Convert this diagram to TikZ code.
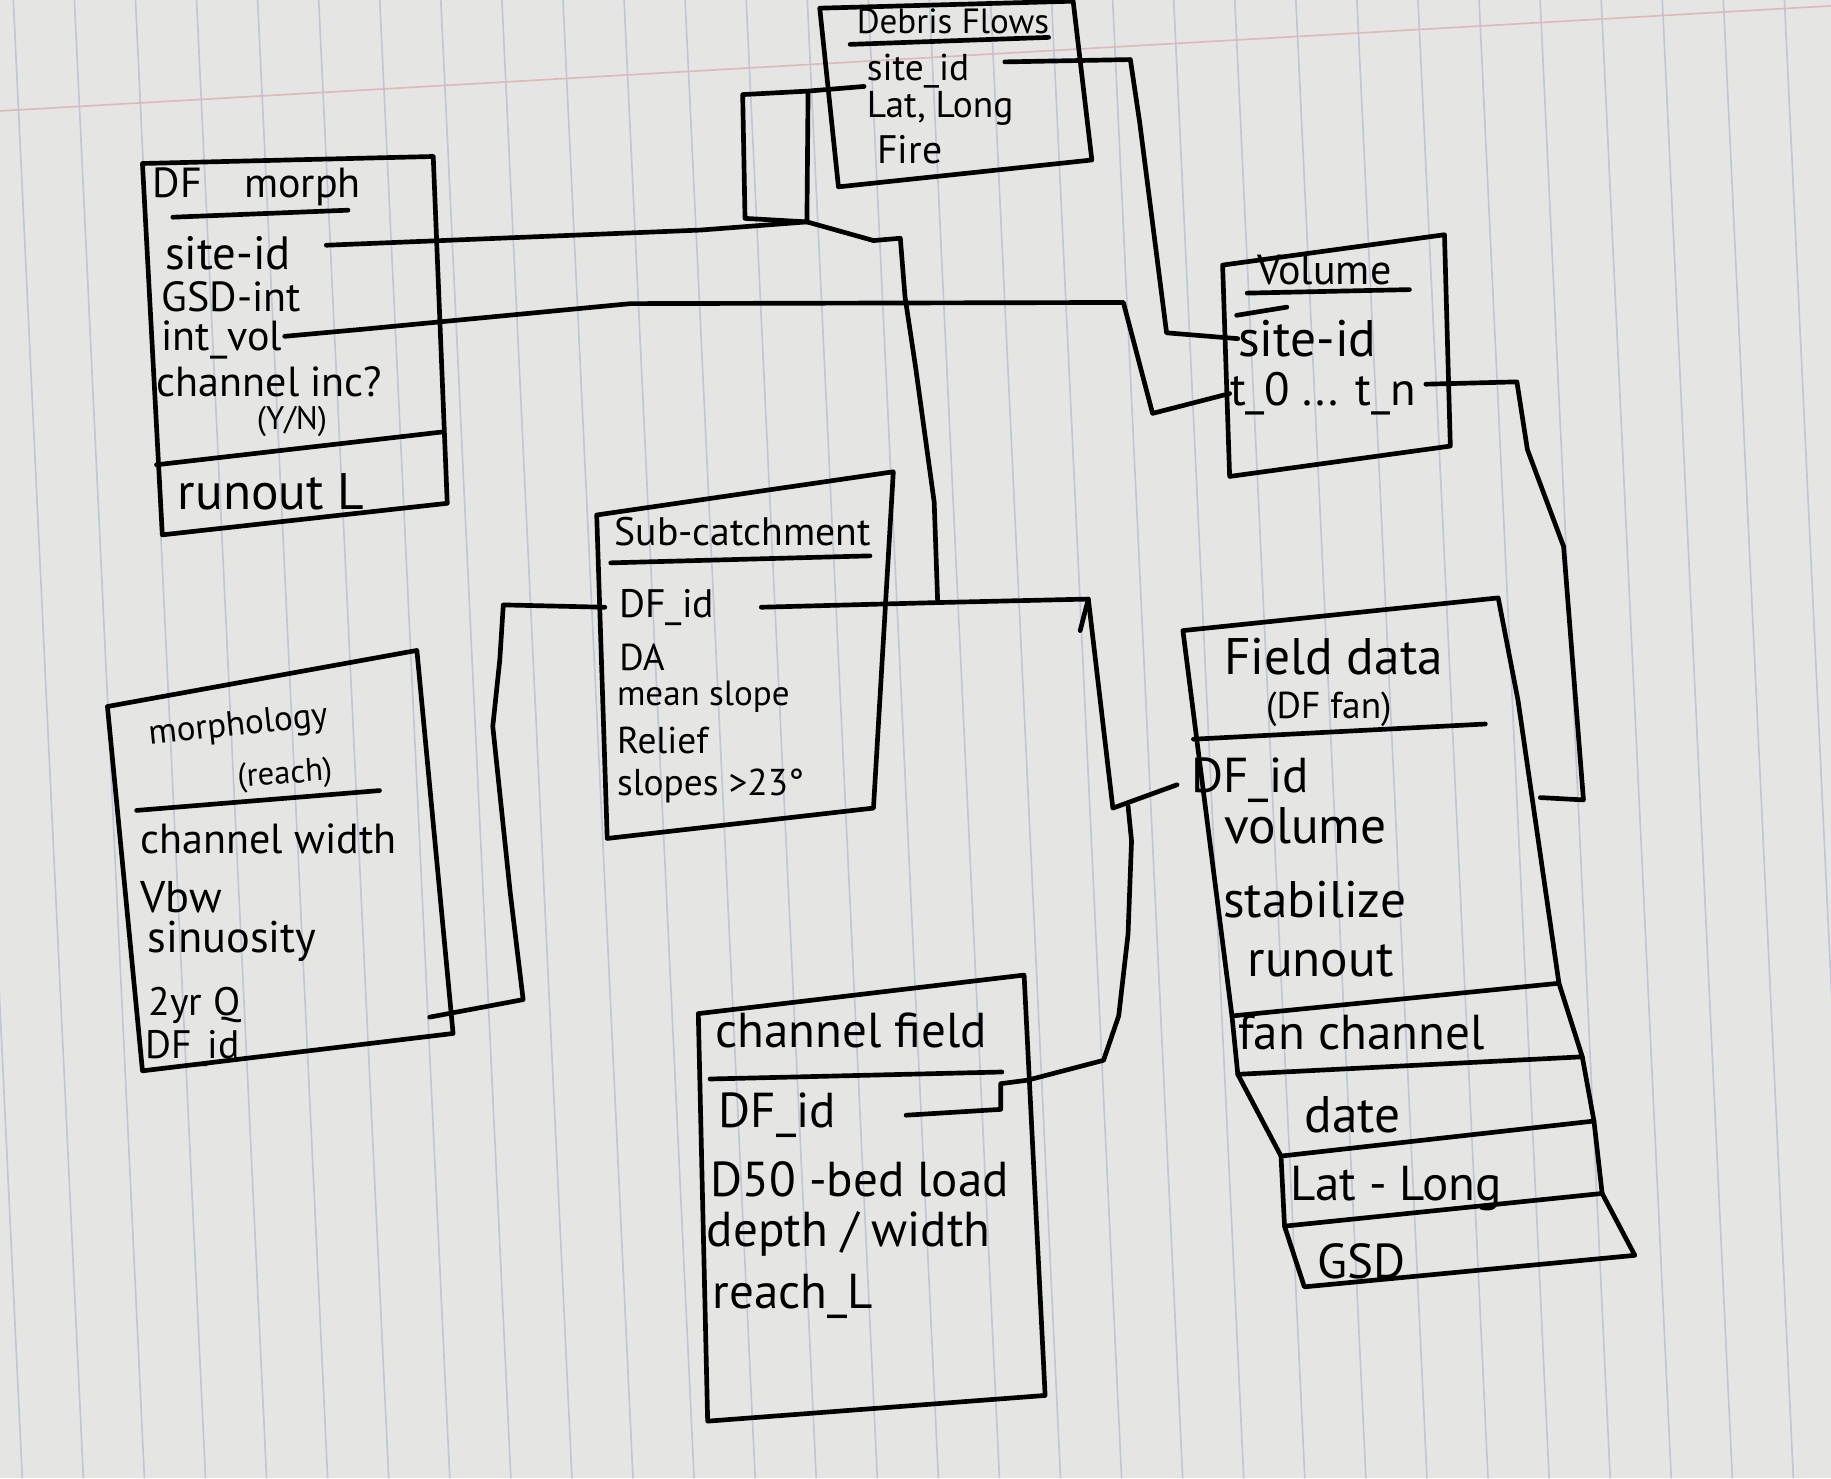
\documentclass[tikz,border=0pt]{standalone}
\usepackage{fontspec}
\setmainfont{PT Sans}
\newcommand{\hw}[1]{\fontsize{#1}{#1}\selectfont}
\definecolor{paper}{RGB}{229,229,227}
\definecolor{rulecol}{RGB}{190,199,217}
\definecolor{margin}{RGB}{222,184,187}
\tikzset{
  ink/.style={line width=2pt, line join=round, line cap=round},
  fld/.style={anchor=west, inner sep=0pt},
  ttl/.style={inner sep=0pt},
  rule/.style={rulecol, line width=0.7pt},
}

\begin{document}
\begin{tikzpicture}[x=0.5pt, y=-0.5pt]
% the notebook page
\fill[paper] (0,0) rectangle (1568,1266);
\useasboundingbox (0,0) rectangle (1568,1266);
\begin{scope}
  \clip (0,0) rectangle (1568,1266);
  \foreach \k in {-14,...,18}
    \draw[rule] ({639+52.3*\k},0) -- ++(60,1266);
  \draw[margin, line width=0.7pt] (0,95) -- (1568,5);
\end{scope}

% bend points of the connectors
\coordinate (jn) at (691,190);
\coordinate (jd) at (803,516);
\coordinate (kink) at (953,692);
\coordinate (mor-end) at (368,871);
\coordinate (fd-end) at (1319,683);

% Debris Flows
\draw[ink] (702,7) -- (919,1) -- (935,137) -- (718,160) -- cycle;
\node[ttl, font=\hw{15}] (dbf) at (816,18) {Debris Flows};
\draw[ink] (728,38) -- (898,32);
\node[fld, font=\hw{16}] (dbf-site) at (742,61) {site\_id};
\node[fld, font=\hw{16}] (dbf-ll) at (742,93) {Lat, Long};
\node[fld, font=\hw{17}] (dbf-fire) at (751,128) {Fire};

% DF morph
\draw[ink] (122,140) -- (371,134) -- (383,431) -- (139,458) -- cycle;
\draw[ink] (134,398) -- (378,370);
\node[ttl, font=\hw{18}] (dfm) at (220,160) {DF\quad morph};
\draw[ink] (148,186) -- (298,180);
\node[fld, font=\hw{20}] (dfm-site) at (141,217) {site-id};
\node[fld, font=\hw{18}] (dfm-gsd) at (138,254) {GSD-int};
\node[fld, font=\hw{18}] (dfm-vol) at (138,291) {int\_vol};
\node[fld, font=\hw{18}] (dfm-chan) at (134,327) {channel inc?};
\node[ttl, font=\hw{14}] (dfm-yn) at (250,361) {(Y/N)};
\node[fld, font=\hw{22}] (dfm-run) at (152,421) {runout L};

% Sub-catchment
\draw[ink] (511,441) -- (765,404) -- (748,692) -- (520,718) -- cycle;
\draw[ink] (523,482) -- (745,476);
\node[ttl, font=\hw{17}] (sub) at (636,455) {Sub-catchment};
\node[fld, font=\hw{17}] (sub-id) at (530,520) {DF\_id};
\node[fld, font=\hw{16}] (sub-da) at (530,563) {DA};
\node[fld, font=\hw{15}] (sub-ms) at (528,597) {mean slope};
\node[fld, font=\hw{16}] (sub-rel) at (528,634) {Relief};
\node[fld, font=\hw{16}] (sub-sl) at (528,673) {slopes >23°};

% morphology (reach)
\draw[ink] (92,605) -- (357,557) -- (388,885) -- (122,917) -- cycle;
\draw[ink] (117,694) -- (325,677);
\node[ttl, font=\hw{15}, rotate=6] (mor) at (204,622) {morphology};
\node[ttl, font=\hw{14}, rotate=4] (mor-r) at (244,664) {(reach)};
\node[fld, font=\hw{18}] (mor-cw) at (120,718) {channel width};
\node[fld, font=\hw{19}] (mor-vbw) at (120,768) {Vbw};
\node[fld, font=\hw{19}] (mor-sin) at (126,806) {sinuosity};
\node[fld, font=\hw{17}] (mor-q) at (127,861) {2yr Q};
\node[fld, font=\hw{17}] (mor-id) at (124,898) {DF\_id};

% channel field
\draw[ink] (598,868) -- (877,835) -- (895,1195) -- (606,1217) -- cycle;
\draw[ink] (608,924) -- (858,918);
\node[ttl, font=\hw{21}] (chf) at (729,882) {channel field};
\node[fld, font=\hw{21}] (chf-id) at (615,955) {DF\_id};
\node[fld, font=\hw{21}] (chf-d50) at (608,1010) {D50 -bed load};
\node[fld, font=\hw{21}] (chf-dw) at (605,1057) {depth / width};
\node[fld, font=\hw{21}] (chf-rl) at (610,1110) {reach\_L};

% Volume
\draw[ink] (1047,227) -- (1237,201) -- (1242,382) -- (1053,408) -- cycle;
\node[ttl, font=\hw{18}] (vol) at (1134,231) {Volume};
\draw[ink] (1068,251) -- (1207,248);
\draw[ink] (1059,270) -- (1102,263);
\node[fld, font=\hw{22}] (vol-site) at (1060,290) {site-id};
\node[fld, font=\hw{20}] (vol-t) at (1053,337) {t\_0 ... t\_n};

% Field data (DF fan)
\draw[ink] (1013,540) -- (1283,512) -- (1300,600) -- (1335,842) -- (1055,870) -- cycle;
\draw[ink] (1055,870) -- (1060,920) -- (1355,905) -- (1335,842);
\draw[ink] (1060,920) -- (1097,990) -- (1365,960) -- (1355,905);
\draw[ink] (1097,990) -- (1100,1050) -- (1372,1022) -- (1365,960);
\draw[ink] (1100,1050) -- (1117,1102) -- (1400,1075) -- (1372,1022);
\draw[ink] (1022,633) -- (1272,620);
\node[ttl, font=\hw{22}] (fd) at (1142,562) {Field data};
\node[ttl, font=\hw{16}] (fd-fan) at (1138,607) {(DF fan)};
\node[fld, font=\hw{21}] (fd-id) at (1020,668) {DF\_id};
\node[fld, font=\hw{22}] (fd-vol) at (1048,707) {volume};
\node[fld, font=\hw{22}] (fd-stab) at (1047,770) {stabilize};
\node[fld, font=\hw{22}] (fd-run) at (1068,823) {runout};
\node[fld, font=\hw{21}] (fd-fch) at (1060,884) {fan channel};
\node[fld, font=\hw{22}] (fd-date) at (1117,955) {date};
\node[fld, font=\hw{21}] (fd-ll) at (1105,1018) {Lat - Long};
\node[fld, font=\hw{21}] (fd-gsd) at (1128,1080) {GSD};

% links
\draw[ink] ([shift={(30,-7)}]dfm-site.east) -- (600,197) -- (jn);
\draw[ink] ([shift={(-2,13)}]dbf-site.west) -- (692,78) -- (636,81) -- (638,187) -- (jn) -- (692,78);
\draw[ink] (jn) -- (748,206) -- (771,204) -- (775,254) -- (784,314) -- (800,430) -- (jd);
\draw[ink] ([xshift=20]sub-id.east) -- (jd) -- (932,513) -- (kink) -- ([shift={(-12,4)}]fd-id.west);
\draw[ink] (932,513) -- (925,540);
\draw[ink] ([xshift=-6]sub-id.west) -- (431,518) -- (428,565) -- (422,622) -- (437,765) -- (448,856) -- (mor-end);
\draw[ink] ([xshift=30]chf-id.east) -- (857,950) -- (857,928) -- (880,925) -- (945,908) -- (958,870) -- (966,800) -- (969,720) -- (966,690);
\draw[ink] ([shift={(30,-8)}]dbf-site.east) -- (968,51) -- (976,105) -- (999,285) -- (vol-site.west);
\draw[ink] ([shift={(2,-3)}]dfm-vol.east) -- (310,282) -- (540,260) -- (962,259) -- (987,354) -- (vol-t.west);
\draw[ink] ([shift={(8,-8)}]vol-t.east) -- (1299,327) -- (1308,385) -- (1339,468) -- (1356,685) -- (fd-end);
\end{tikzpicture}
\end{document}
